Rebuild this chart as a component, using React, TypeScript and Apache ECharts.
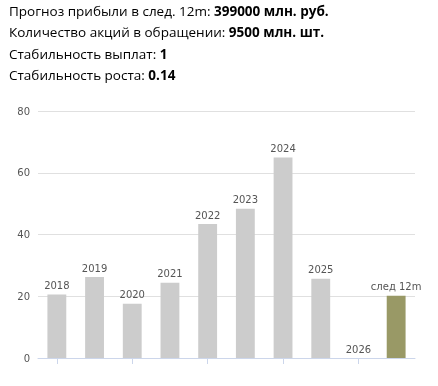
import React, { useEffect, useRef } from "react";
import * as echarts from "echarts";

const categories = ["2018", "2019", "2020", "2021", "2022", "2023", "2024", "2025", "2026", "след 12m"];
const values = [20.6, 26.2, 17.6, 24.4, 43.4, 48.3, 64.9, 25.7, 0, 20.2];
const yTicks = [0, 20, 40, 60, 80];
const infoLabels = ["Прогноз прибыли в след. 12m: ", "Количество акций в обращении: ", "Стабильность выплат: ", "Стабильность роста: "];
const infoValues = ["399000 млн. руб.", "9500 млн. шт.", "1", "0.14"];

const FONT = "'Open Sans', sans-serif";
const AXFONT = "'DejaVu Sans', sans-serif";

export default function App() {
  const ref = useRef<HTMLDivElement>(null);
  useEffect(() => {
    if (!ref.current) return;
    const chart = echarts.init(ref.current, undefined, { renderer: "svg" });
    const lineYs = [13, 34, 56, 77];
    chart.setOption({
      animation: false,
      textStyle: { fontFamily: FONT },
      graphic: infoLabels.map((lab, i) => ({
        type: "text",
        left: 9,
        top: lineYs[i] - 9,
        style: {
          text: `{a|${lab}}{b|${infoValues[i]}}`,
          rich: {
            a: { fontFamily: FONT, fontSize: 13.5, color: "#444", fontWeight: "normal" },
            b: { fontFamily: FONT, fontSize: 13.5, color: "#111", fontWeight: "bold" },
          },
        },
      })),
      grid: { left: 38, right: 23, top: 111, bottom: 28, containLabel: false },
      xAxis: {
        type: "category",
        data: categories,
        axisLine: { lineStyle: { color: "#ccd6eb" } },
        axisTick: { show: true, alignWithLabel: true, interval: 1, length: 6, lineStyle: { color: "#ccd6eb" } },
        axisLabel: { show: false },
      },
      yAxis: {
        type: "value",
        min: yTicks[0],
        max: yTicks[yTicks.length - 1],
        interval: 20,
        axisLine: { show: false },
        axisTick: { show: false },
        splitLine: { lineStyle: { color: "#e0e0e0" } },
        axisLabel: { color: "#555", fontSize: 10, margin: 8, fontFamily: AXFONT },
      },
      series: [
        {
          type: "bar",
          data: values.map((v, i) => ({
            value: v,
            itemStyle: { color: i === values.length - 1 ? "#999966" : "#cccccc" },
          })),
          barWidth: "50%",
          label: {
            show: true,
            position: "top",
            distance: 4,
            color: "#555",
            fontSize: 10,
            fontFamily: AXFONT,
            formatter: (p: any) => categories[p.dataIndex],
          },
        },
      ],
    });
    return () => chart.dispose();
  }, []);
  return <div ref={ref} style={{ position: "fixed", left: 0, top: 0, width: 438, height: 386 }} />;
}
